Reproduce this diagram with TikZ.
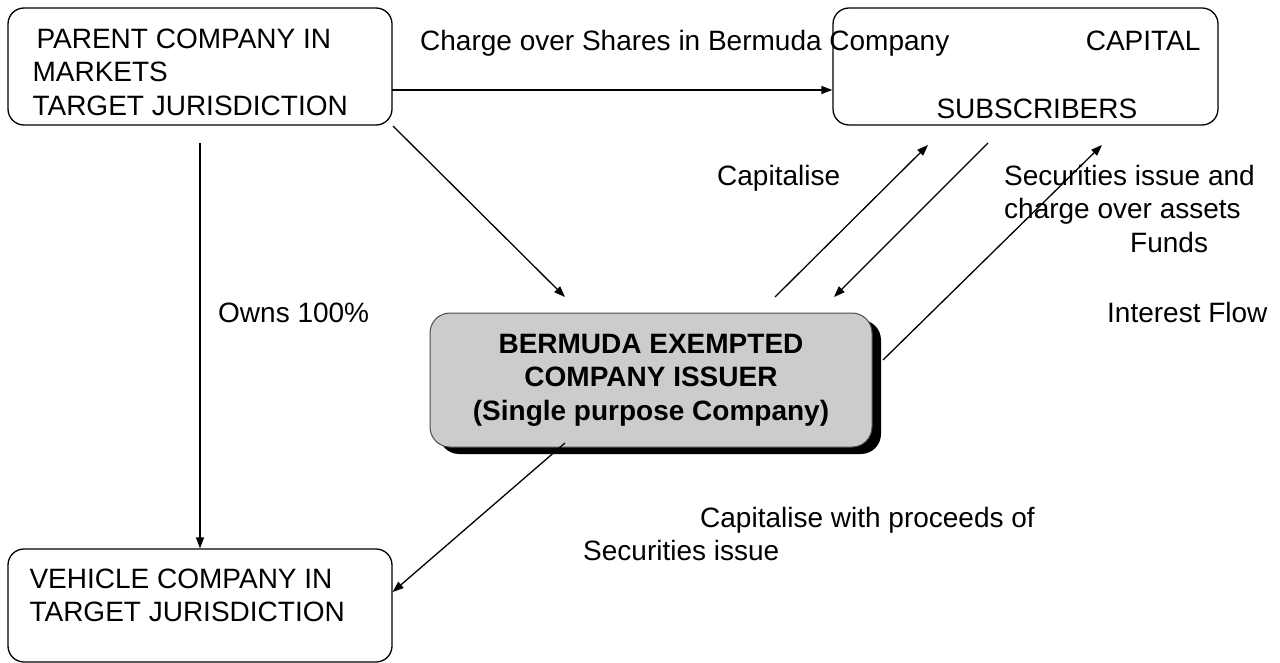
\documentclass[tikz,border=0pt]{standalone}
\usepackage{fontspec}
\setmainfont{Liberation Sans}
\usetikzlibrary{arrows.meta,shadows}
\tikzset{
    entity-box/.style = {draw=black, line width=1.3pt, rectangle, rounded corners=16pt, inner sep=0pt},
    issuer-box/.style = {draw=black!70, fill=black!20, line width=1pt, rectangle, rounded corners=20pt, align=center,
        minimum width=442pt, minimum height=134pt, font=\fontsize{28}{33.5}\selectfont\bfseries,
        drop shadow={shadow xshift=9pt, shadow yshift=-7pt, fill=black, opacity=1}},
    flow-text/.style = {inner sep=0pt, align=left, font=\fontsize{28}{33.5}\selectfont},
    flow/.style = {line width=1.3pt, -{Triangle[length=11pt,width=8pt]}},
}

\begin{document}
\begin{tikzpicture}[x=1pt,y=-1pt]
\useasboundingbox (0,0) rectangle (1280,663);
% the four parties
\node [entity-box, minimum width=384pt, minimum height=117pt] (parent) at (200,66.5) {};
\node [flow-text, anchor=north west] at ([xshift=25pt, yshift=-21pt]parent.north west)
    {\hspace*{4pt}PARENT COMPANY IN\\MARKETS\\TARGET JURISDICTION};
\node [entity-box, minimum width=385pt, minimum height=117pt] (capital) at (1025.5,66.5) {};
\node [flow-text, anchor=base east] at ([xshift=-18pt, yshift=-43pt]capital.north east) {CAPITAL};
\node [flow-text, anchor=base west] at ([xshift=104pt, yshift=7pt]capital.south west) {SUBSCRIBERS};
\node [issuer-box] (issuer) at (651,380)
    {BERMUDA EXEMPTED\\COMPANY ISSUER\\(Single purpose Company)};
\node [entity-box, minimum width=384pt, minimum height=113pt] (vehicle) at (200,605.5) {};
\node [flow-text, anchor=north west] at ([xshift=22pt, yshift=-20pt]vehicle.north west)
    {VEHICLE COMPANY IN\\TARGET JURISDICTION};

% free ends of the connectors
\coordinate (p-out) at (392,90);
\coordinate (own-top) at (200,143);
\coordinate (p-diag) at (393,126);
\coordinate (i-in) at (565,297);
\coordinate (cap-low) at (775,297);
\coordinate (cap-high) at (928,145);
\coordinate (sec-high) at (988,143);
\coordinate (sec-low) at (834,297);
\coordinate (int-low) at (883,360);
\coordinate (int-high) at (1102,145);
\coordinate (v-out) at (565,443);

\draw [flow] (p-out) -- (p-out -| capital.west);
\draw [flow] (own-top) -- (own-top |- vehicle.north);
\draw [flow] (p-diag) -- (i-in);
\draw [flow] (cap-low) -- (cap-high);
\draw [flow] (sec-high) -- (sec-low);
\draw [flow] (int-low) -- (int-high);
\draw [flow] (v-out) -- (vehicle.east |- 0,592);

% labels
\node [flow-text, anchor=base west] (charge) at (420,51) {Charge over Shares in Bermuda Company};
\node [flow-text, anchor=base west] (capitalise) at (717,186) {Capitalise};
\node [flow-text, anchor=north west] (securities) at (1004,165) {Securities issue and\\charge over assets};
\node [flow-text, anchor=base west] (funds) at (1130,252) {Funds};
\node [flow-text, anchor=base west] (owns) at (218,322) {Owns 100\%};
\node [flow-text, anchor=base west] (interest) at (1107,322) {Interest Flow};
\node [flow-text, anchor=base west] (proceeds) at (700,527) {Capitalise with proceeds of};
\node [flow-text, anchor=base west] (issue) at (583,560) {Securities issue};
\end{tikzpicture}
\end{document}
